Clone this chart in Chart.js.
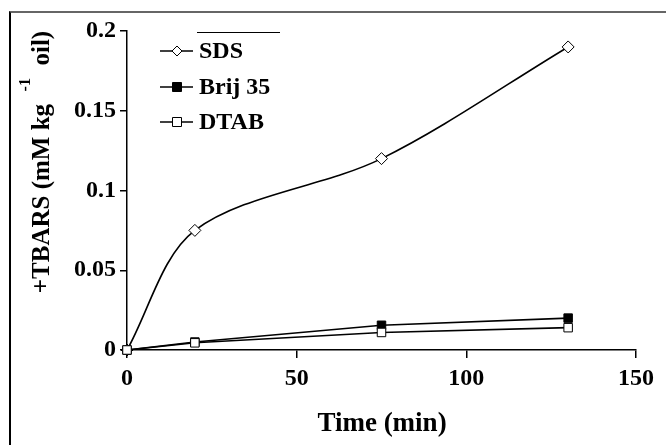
<!DOCTYPE html>
<html>
<head>
<meta charset="utf-8">
<script src="https://cdn.jsdelivr.net/npm/chart.js@4/dist/chart.umd.min.js"></script>
<style>
  html, body { margin: 0; padding: 0; background: #fff; }
  #wrap { position: relative; width: 666px; height: 445px; }
  #frame { position: absolute; left: 9px; top: 11px; right: 0; bottom: 0;
           border-top: 2px solid #666; border-left: 2px solid #000; pointer-events: none; }
  canvas { position: absolute; left: 0; top: 0; }
</style>
</head>
<body>
<div id="wrap">
  <canvas id="chart" width="666" height="445"></canvas>
  <div id="frame"></div>
</div>
<script>
// --- data ---
const TIMES   = [0, 20, 75, 130];
const SDS     = [0, 0.075, 0.12, 0.19];
const BRIJ35  = [0, 0.005, 0.0155, 0.02];
const DTAB    = [0, 0.0045, 0.011, 0.014];
const X_TICKS = [0, 50, 100, 150];
const Y_TICKS = [0, 0.05, 0.1, 0.15, 0.2];
const SERIES_NAMES = ['SDS', 'Brij 35', 'DTAB'];

const FONT = '"Liberation Serif", "Times New Roman", serif';

const SERIES = [
  { label: SERIES_NAMES[0], values: SDS,    style: 'rectRot', fill: '#fff', radius: 6, tension: 0.32 },
  { label: SERIES_NAMES[1], values: BRIJ35, style: 'rect',    fill: '#000', radius: 6, tension: 0 },
  { label: SERIES_NAMES[2], values: DTAB,   style: 'rect',    fill: '#fff', radius: 6, tension: 0 },
];

// legend + axis titles drawn by hand (line-through markers and the superscript)
const decor = {
  id: 'decor',
  afterDraw(chart) {
    const ctx = chart.ctx;
    ctx.save();
    ctx.fillStyle = '#000';
    ctx.strokeStyle = '#000';

    // stray legend box edge
    ctx.lineWidth = 1;
    ctx.beginPath(); ctx.moveTo(197, 32.5); ctx.lineTo(280, 32.5); ctx.stroke();

    // legend
    const rowY = [51, 87, 122];
    SERIES.forEach((s, i) => {
      const y = rowY[i];
      ctx.lineWidth = 1.5;
      ctx.beginPath(); ctx.moveTo(160, y); ctx.lineTo(193, y); ctx.stroke();
      ctx.fillStyle = s.fill;
      ctx.lineWidth = 1;
      ctx.beginPath();
      if (s.style === 'rectRot') {
        ctx.moveTo(177, y - 5); ctx.lineTo(182, y); ctx.lineTo(177, y + 5); ctx.lineTo(172, y);
        ctx.closePath();
      } else {
        ctx.rect(172.5, y - 4.5, 9, 9);
      }
      ctx.fill(); ctx.stroke();
      ctx.fillStyle = '#000';
      ctx.font = 'bold 24px ' + FONT;
      ctx.textBaseline = 'middle';
      ctx.textAlign = 'left';
      ctx.fillText(s.label, 199, y + 1);
    });

    // x title
    ctx.font = 'bold 27px ' + FONT;
    ctx.textAlign = 'center';
    ctx.textBaseline = 'middle';
    ctx.fillText('Time (min)', 382, 424);

    // y title, rotated, with raised "-1"
    ctx.translate(43, 162);
    ctx.rotate(-Math.PI / 2);
    ctx.textAlign = 'left';
    ctx.textBaseline = 'middle';
    const big = 'bold 25px ' + FONT, small = 'bold 16px ' + FONT;
    const parts = [
      { t: '+TBARS (mM kg  ', f: big, dy: 0 },
      { t: '-1', f: small, dy: -17 },
      { t: '  oil)', f: big, dy: 0 },
    ];
    let w = 0;
    parts.forEach(p => { ctx.font = p.f; w += ctx.measureText(p.t).width; });
    let x = -w / 2;
    parts.forEach(p => { ctx.font = p.f; ctx.fillText(p.t, x, p.dy); x += ctx.measureText(p.t).width; });
    ctx.restore();
  }
};

const axisCommon = {
  grid: { drawOnChartArea: false, drawTicks: true, color: '#000', lineWidth: 1.5 },
  border: { display: true, color: '#000', width: 1.5 },
};
const tickFont = { family: FONT, size: 24, weight: 'bold' };
const fmt = v => String(Number(v.toFixed(3)));

new Chart(document.getElementById('chart'), {
  type: 'line',
  data: {
    datasets: SERIES.map((s, i) => ({
      label: s.label,
      data: TIMES.map((t, j) => ({ x: t, y: s.values[j] })),
      borderColor: '#000',
      borderWidth: 1.6,
      tension: s.tension,
      pointStyle: s.style,
      pointRadius: s.radius,
      pointBackgroundColor: s.fill,
      pointBorderColor: '#000',
      pointBorderWidth: 1,
      order: SERIES.length - i,
      clip: false,
      fill: false,
    }))
  },
  options: {
    responsive: false,
    animation: false,
    devicePixelRatio: 1,
    layout: { padding: { left: 0, right: 30, top: 31, bottom: 0 } },
    plugins: { legend: { display: false }, tooltip: { enabled: false } },
    scales: {
      x: {
        ...axisCommon,
        type: 'linear', min: 0, max: 150,
        grid: { ...axisCommon.grid, tickLength: 8 },
        afterBuildTicks: s => { s.ticks = X_TICKS.map(v => ({ value: v })); },
        afterFit: s => { s.height = 95; },
        ticks: { color: '#000', font: tickFont, padding: 6, maxRotation: 0, callback: fmt },
      },
      y: {
        ...axisCommon,
        type: 'linear', min: 0, max: 0.2,
        grid: { ...axisCommon.grid, tickLength: 7 },
        afterBuildTicks: s => { s.ticks = Y_TICKS.map(v => ({ value: v })); },
        afterFit: s => { s.width = 127; },
        ticks: { color: '#000', font: tickFont, padding: 4, callback: fmt },
      },
    },
  },
  plugins: [decor],
});
</script>
</body>
</html>
